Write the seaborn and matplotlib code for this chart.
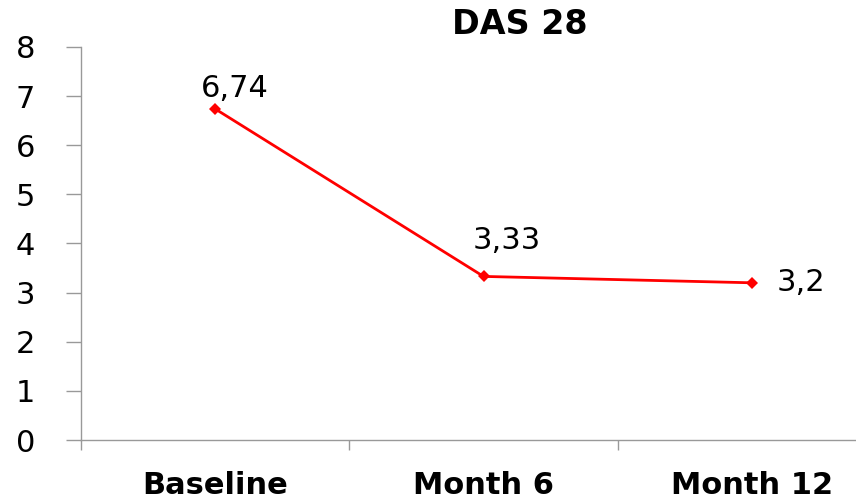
import matplotlib
matplotlib.use("Agg")
import matplotlib.pyplot as plt
import seaborn as sns
import pandas as pd

# data
visits = ["Baseline", "Month 6", "Month 12"]
das28 = [6.74, 3.33, 3.2]
value_labels = ["6,74", "3,33", "3,2"]

sns.set_style("white")
plt.rcParams['font.family'] = ['DejaVu Sans']
plt.rcParams['text.color'] = 'black'
plt.rcParams['xtick.color'] = 'black'
plt.rcParams['ytick.color'] = 'black'

df = pd.DataFrame({"visit": visits, "das28": das28})

fig = plt.figure(figsize=(8.56, 4.98), dpi=100)
ax = fig.add_axes([81/856, 1 - 440/498, 805/856, 393/498])

sns.lineplot(data=df, x="visit", y="das28", ax=ax, color="#ff0000",
             linewidth=2, marker="D", markersize=6, markeredgewidth=0)

ax.set_xlim(-0.5, 2.5)
ax.set_ylim(0, 8)
ax.set_yticks(range(0, 9))
ax.set_xlabel("")
ax.set_ylabel("")

# category separators on x axis
ax.set_xticks([-0.5, 0.5, 1.5, 2.5], minor=True)
ax.tick_params(axis="x", which="minor", bottom=True, length=7, width=1, color="#999999")
ax.tick_params(axis="x", which="major", bottom=True, length=0, pad=22, labelcolor="black")
ax.tick_params(axis="y", left=True, length=11, width=1, color="#999999", pad=22,
               labelsize=22, labelcolor="black")
for lab in ax.get_xticklabels():
    lab.set_fontsize(22)
    lab.set_fontweight("bold")

for s in ["top", "right"]:
    ax.spines[s].set_visible(False)
for s in ["left", "bottom"]:
    ax.spines[s].set_color("#999999")
    ax.spines[s].set_linewidth(1)

# value labels
offsets = [((14, 15), "center", "center"), ((17, 26), "center", "center"), ((18, 0), "left", "center")]
for i, (v, txt) in enumerate(zip(das28, value_labels)):
    off, ha, va = offsets[i]
    ax.annotate(txt, (i, v), xytext=off, textcoords="offset points",
                ha=ha, va=va, fontsize=22, color="black")

fig.text(520/856, 1 - 24/498, "DAS 28", ha="center", va="center",
         fontsize=24, fontweight="bold", color="black")

fig.savefig("out.png", dpi=100)
